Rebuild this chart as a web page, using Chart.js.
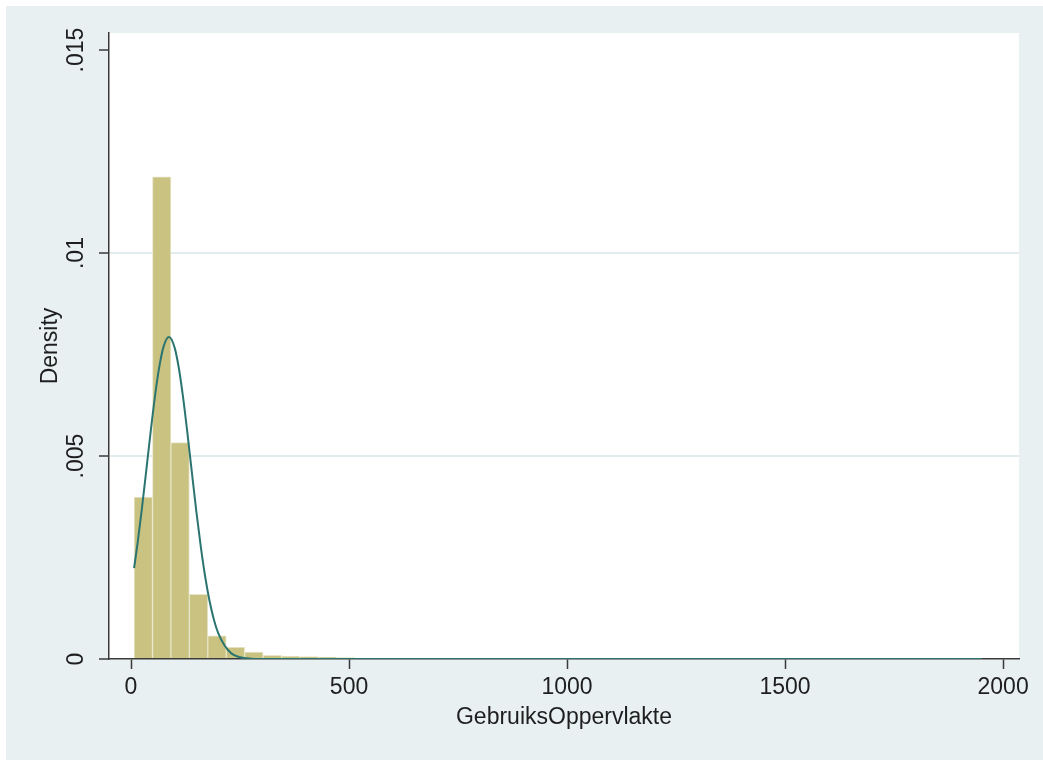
<!DOCTYPE html>
<html>
<head>
<meta charset="utf-8">
<script src="https://cdn.jsdelivr.net/npm/chart.js@4/dist/chart.umd.min.js"></script>
<style>
  html, body { margin: 0; padding: 0; background: #ffffff; }
  #wrap { width: 1043px; height: 760px; }
</style>
</head>
<body>
<div id="wrap"><canvas id="c" width="1043" height="760"></canvas></div>
<script>
// Histogram of GebruiksOppervlakte: 46 equal-width bins starting at the minimum
const binStart = 7;
const binWidth = 42.26;
const densities = [
  0.00399, 0.01188, 0.00533, 0.00159, 0.00057, 0.00029, 0.00017, 0.00009,
  0.00007, 0.00006, 0.00004, 0.00003, 0.00002, 0.00002, 0.000015, 0.00001,
  0.00001, 0.000008, 0.000006, 0.000005, 0.000004, 0.000003, 0.000002, 0.000002,
  0.000002, 0.000001, 0.000001, 0.000001, 0.00002, 0.000001, 0.000001, 0.000001,
  0.0, 0.0, 0.000001, 0.0, 0.0, 0.0, 0.0, 0.0,
  0.0, 0.0, 0.0, 0.0, 0.0, 0.00002
];

// Overlaid normal density (mean ~87, sd ~50)
const curveX = [7, 15, 25, 35, 45, 55, 65, 75, 87, 100, 110, 120, 130, 140, 150,
                160, 170, 180, 190, 200, 215, 230, 250, 275, 300, 350, 1951];
const curveY = [0.002239, 0.002847, 0.003710, 0.004648, 0.005597, 0.006478, 0.007208,
                0.007708, 0.007931, 0.007670, 0.007144, 0.006396, 0.005503, 0.004552,
                0.003620, 0.002767, 0.002033, 0.001435, 0.000975, 0.000636, 0.000327,
                0.000139, 0.0000416, 0.0000073, 0.0000010, 0, 0];

const xTicks = [0, 500, 1000, 1500, 2000];
const yTicks = [0, 0.005, 0.01, 0.015];
const yTickLabels = ['0', '.005', '.01', '.015'];
const xTitle = 'GebruiksOppervlakte';
const yTitle = 'Density';

const barData = densities.map((d, i) => ({ x: binStart + binWidth * (i + 0.5), y: d }));
const lineData = curveX.map((x, i) => ({ x: x, y: curveY[i] }));

const FONT = "'Liberation Sans', Arial, Helvetica, sans-serif";
const INK = '#1e1e1e';
const AXIS = '#3a3a3a';

// Graph region (bluish grey frame) and white plot region
const framePlugin = {
  id: 'frame',
  beforeDraw(chart) {
    const { ctx, chartArea: a } = chart;
    ctx.save();
    ctx.fillStyle = '#ffffff';
    ctx.fillRect(0, 0, chart.width, chart.height);
    ctx.fillStyle = '#e8f0f2';
    ctx.fillRect(6, 6, chart.width - 6, chart.height - 6);
    ctx.fillStyle = '#ffffff';
    ctx.fillRect(a.left, a.top, a.right - a.left, a.bottom - a.top);
    ctx.restore();
  }
};

new Chart(document.getElementById('c'), {
  data: {
    datasets: [
      {
        type: 'scatter',
        data: lineData,
        showLine: true,
        borderColor: '#2b7470',
        borderWidth: 2,
        pointRadius: 0,
        cubicInterpolationMode: 'monotone',
        order: 0
      },
      {
        type: 'bar',
        data: barData,
        backgroundColor: '#c9c280',
        borderColor: '#e8e5c8',
        borderWidth: 1,
        barPercentage: 1,
        categoryPercentage: 1,
        grouped: false,
        order: 1
      }
    ]
  },
  options: {
    responsive: false,
    animation: false,
    devicePixelRatio: 1,
    layout: { padding: { left: 0, top: 33, right: 24, bottom: 0 } },
    plugins: { legend: { display: false }, tooltip: { enabled: false } },
    scales: {
      x: {
        type: 'linear',
        min: -50.5,
        max: 2036.5,
        offset: false,
        afterBuildTicks(s) { s.ticks = xTicks.map(v => ({ value: v })); },
        afterFit(s) { s.height = 101; },
        ticks: {
          callback: v => String(v),
          font: { family: FONT, size: 23 },
          color: INK,
          padding: 5,
          maxRotation: 0,
          autoSkip: false
        },
        grid: {
          offset: false,
          drawOnChartArea: false,
          drawTicks: true,
          tickLength: 10,
          tickColor: AXIS,
          tickWidth: 1.5
        },
        border: { display: true, color: AXIS, width: 1.5 },
        title: {
          display: true,
          text: xTitle,
          font: { family: FONT, size: 23 },
          color: INK,
          padding: { top: 0, bottom: 29 }
        }
      },
      y: {
        type: 'linear',
        min: 0,
        max: 0.01542,
        afterBuildTicks(s) { s.ticks = yTicks.map(v => ({ value: v })); },
        afterFit(s) { s.width = 109; },
        ticks: {
          callback: (v, i) => yTickLabels[i],
          font: { family: FONT, size: 23 },
          color: INK,
          minRotation: 90,
          maxRotation: 90,
          crossAlign: 'center',
          padding: 0,
          autoSkip: false
        },
        grid: {
          color: c => (c.tick && (c.tick.value === 0.005 || c.tick.value === 0.01)) ? '#e2ebee' : 'rgba(0,0,0,0)',
          lineWidth: 2,
          drawTicks: true,
          tickLength: 10,
          tickColor: AXIS,
          tickWidth: 1.5
        },
        border: { display: true, color: AXIS, width: 1.5 },
        title: {
          display: true,
          text: yTitle,
          font: { family: FONT, size: 23 },
          color: INK,
          padding: { top: 37, bottom: 0 }
        }
      }
    }
  },
  plugins: [framePlugin]
});
</script>
</body>
</html>
